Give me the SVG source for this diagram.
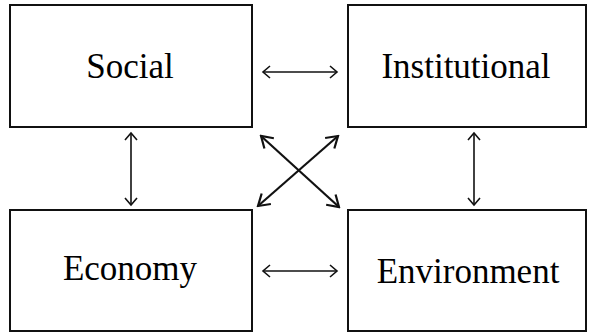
<svg xmlns="http://www.w3.org/2000/svg" width="589" height="333" viewBox="0 0 589 333">
<style>
.box{fill:#fff;stroke:#111;stroke-width:2}
.lbl{font-family:"Liberation Serif","Times New Roman",serif;font-size:35px;fill:#000;text-anchor:middle}
.con{stroke:#111;stroke-width:1.6;fill:none;marker-start:url(#ah);marker-end:url(#ah)}
.con2{stroke:#111;stroke-width:2.2;fill:none;marker-start:url(#ah2);marker-end:url(#ah2)}
</style>
<defs>
<marker id="ah" markerUnits="userSpaceOnUse" viewBox="-10 -8 12 16" markerWidth="12" markerHeight="16" refX="0" refY="0" orient="auto-start-reverse">
<path d="M-7,-6 L0,0 L-7,6" fill="none" stroke="#111" stroke-width="1.6"/>
</marker>
<marker id="ah2" markerUnits="userSpaceOnUse" viewBox="-14 -10 16 20" markerWidth="16" markerHeight="20" refX="0" refY="0" orient="auto-start-reverse">
<path d="M-11,-7 L0,0 L-11,7" fill="none" stroke="#111" stroke-width="2.2"/>
</marker>
</defs>
<g id="social"><rect class="box" x="10" y="5" width="242" height="122"/><text class="lbl" x="130" y="78">Social</text></g>
<g id="institutional"><rect class="box" x="348" y="5" width="238" height="122"/><text class="lbl" x="466" y="78">Institutional</text></g>
<g id="economy"><rect class="box" x="10" y="210" width="242" height="121"/><text class="lbl" x="130" y="280">Economy</text></g>
<g id="environment"><rect class="box" x="348" y="210" width="238" height="121"/><text class="lbl" x="468" y="283">Environment</text></g>
<g id="connectors">
<line class="con" x1="263" y1="72" x2="337" y2="72"/>
<line class="con" x1="263" y1="271" x2="337" y2="271"/>
<line class="con" x1="131" y1="133" x2="131" y2="205"/>
<line class="con" x1="474" y1="133" x2="474" y2="205"/>
<line class="con2" x1="261" y1="136" x2="339" y2="207"/>
<line class="con2" x1="338" y1="136" x2="258" y2="206"/>
</g>
</svg>
